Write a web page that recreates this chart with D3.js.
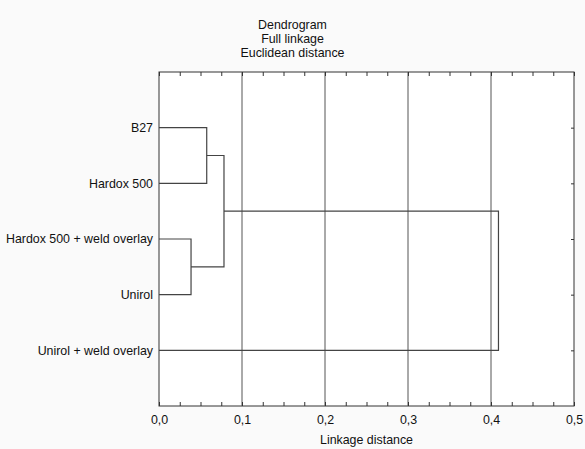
<html>
<head>
<meta charset="utf-8" />
<script src="https://cdn.jsdelivr.net/npm/d3@7/dist/d3.min.js"></script>
<style>
body { margin: 0; background: #fafafa; }
text { font-family: "Liberation Sans", Arial, sans-serif; font-size: 12.4px; fill: #111; }
.frame { fill: #fff; stroke: #333; stroke-width: 1; }
.grid line { stroke: #555; stroke-width: 1; }
.link { fill: none; stroke: #444; stroke-width: 1.2; }
.axis path { display: none; }
.axis line { stroke: #333; }
</style>
</head>
<body>
<svg id="chart" width="585" height="449"></svg>
<script>

var titleLines = ["Dendrogram", "Full linkage", "Euclidean distance"];
var xTitle = "Linkage distance";
var leaves = ["B27", "Hardox 500", "Hardox 500 + weld overlay", "Unirol", "Unirol + weld overlay"];
var xTicks = [0, 0.1, 0.2, 0.3, 0.4, 0.5];
var gridTicks = [0.1, 0.2, 0.3, 0.4];
// merges: [left node, right node, linkage distance]; nodes 0..4 are leaves, 5.. are clusters
var merges = [
  [2, 3, 0.0386],
  [0, 1, 0.0575],
  [6, 5, 0.0783],
  [7, 4, 0.409]
];

var margin = {top: 72, right: 11, bottom: 43, left: 159};
var svgWidth = 585, svgHeight = 449;
var width = svgWidth - margin.left - margin.right;
var height = svgHeight - margin.top - margin.bottom;

var svg = d3.select("#chart");
var g = svg.append("g").attr("transform", "translate(" + margin.left + "," + margin.top + ")");

var x = d3.scaleLinear().domain([0, 0.5]).range([0, width]);
var y = d3.scaleLinear().domain([0, leaves.length + 1]).range([0, height]);

g.append("rect").attr("class", "frame").attr("width", width).attr("height", height);

// grid lines
g.append("g").attr("class", "grid")
  .selectAll("line").data(gridTicks).enter().append("line")
  .attr("x1", d => x(d)).attr("x2", d => x(d))
  .attr("y1", 0).attr("y2", height);

// node positions
var nodes = leaves.map((name, i) => ({x: 0, y: y(i + 1)}));
merges.forEach(function(m) {
  var a = nodes[m[0]], b = nodes[m[1]];
  var xm = x(m[2]);
  var path = d3.path();
  path.moveTo(a.x, a.y);
  path.lineTo(xm, a.y);
  path.lineTo(xm, b.y);
  path.lineTo(b.x, b.y);
  g.append("path").attr("class", "link").attr("d", path.toString());
  nodes.push({x: xm, y: (a.y + b.y) / 2});
});

// minor ticks (inward) top and bottom
var minor = d3.range(0, 0.5001, 0.025);
g.append("g").attr("class", "axis")
  .attr("transform", "translate(0," + height + ")")
  .call(d3.axisTop(x).tickValues(minor).tickSize(4).tickFormat(""));
g.append("g").attr("class", "axis")
  .call(d3.axisBottom(x).tickValues(minor).tickSize(4).tickFormat(""));

// bottom labels
var fmt = d => d3.format(".1f")(d).replace(".", ",");
var xAxis = g.append("g").attr("class", "axis")
  .attr("transform", "translate(0," + height + ")")
  .call(d3.axisBottom(x).tickValues(xTicks).tickSize(0).tickPadding(9).tickFormat(fmt));
xAxis.selectAll("text").style("font-size", "12.4px");

// left labels
var yAxis = g.append("g").attr("class", "axis")
  .call(d3.axisLeft(y).tickValues(d3.range(1, leaves.length + 1)).tickSize(0).tickPadding(6)
    .tickFormat(d => leaves[d - 1]));
yAxis.selectAll("text").style("font-size", "12.4px");

// right inward ticks
g.append("g").attr("class", "axis")
  .attr("transform", "translate(" + width + ",0)")
  .call(d3.axisLeft(y).tickValues(d3.range(1, leaves.length + 1)).tickSize(3).tickFormat(""));

// titles
svg.append("g").selectAll("text").data(titleLines).enter().append("text")
  .attr("x", svgWidth / 2).attr("y", (d, i) => 29 + i * 14)
  .attr("text-anchor", "middle").text(d => d);

svg.append("text")
  .attr("x", margin.left + width / 2).attr("y", 444)
  .attr("text-anchor", "middle").text(xTitle);

</script>
</body>
</html>
